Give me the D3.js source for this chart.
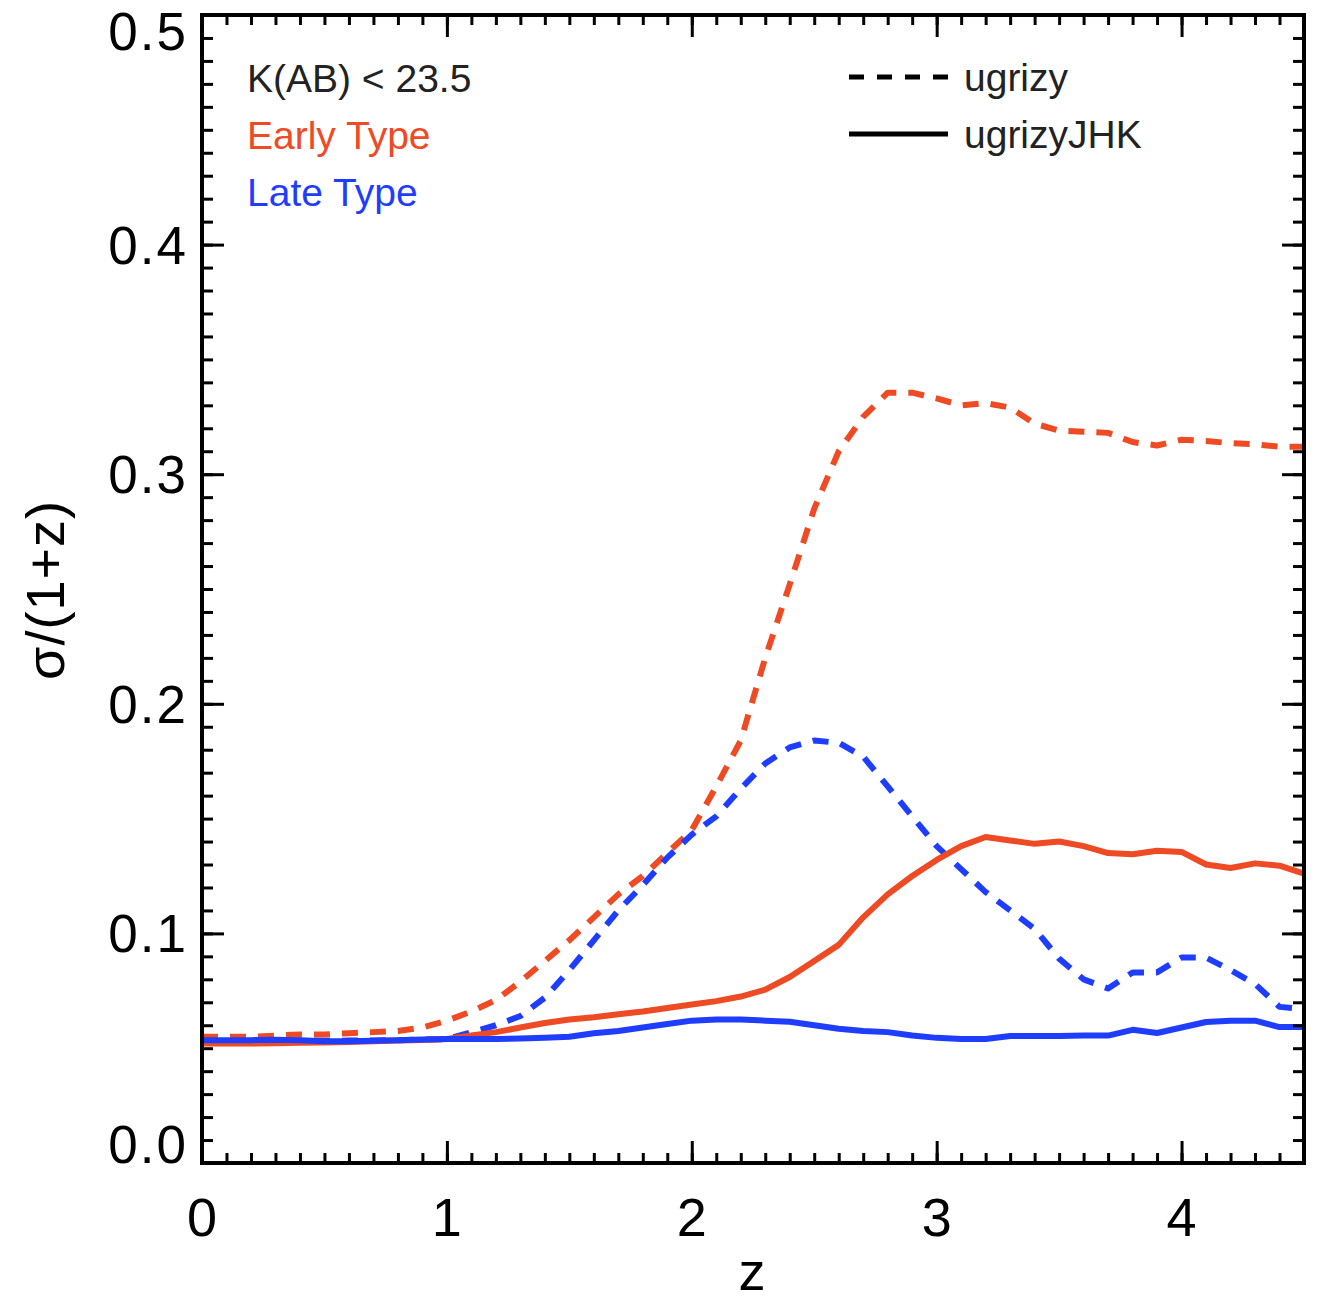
<!DOCTYPE html>
<meta charset="utf-8">
<style>
body { margin: 0; background: #fff; }
text { font-family: "Liberation Sans", Helvetica, Arial, sans-serif; }
.axis path { display: none; }
.axis line { stroke: #000; stroke-width: 3px; }
</style>
<svg width="1318" height="1303"></svg>
<script src="https://d3js.org/d3.v7.min.js"></script>
<script>

// redshift grid
var zGrid = d3.range(0, 46).map(function(i) { return +(i * 0.1).toFixed(1); });

// sigma/(1+z)
var earlyOptical = [0.055, 0.055, 0.055, 0.0555, 0.056, 0.056, 0.0565, 0.057, 0.0575, 0.059,
  0.062, 0.066, 0.071, 0.079, 0.088, 0.097, 0.107, 0.117, 0.125, 0.135,
  0.145, 0.164, 0.184, 0.220, 0.252, 0.285, 0.310, 0.325, 0.3355, 0.3355,
  0.333, 0.330, 0.331, 0.329, 0.322, 0.319, 0.3185, 0.318, 0.314, 0.3125,
  0.315, 0.3145, 0.3135, 0.313, 0.312, 0.312];

var lateOptical = [0.053, 0.053, 0.053, 0.053, 0.0532, 0.0532, 0.0533, 0.0534, 0.0535, 0.0537,
  0.054, 0.057, 0.060, 0.064, 0.072, 0.084, 0.097, 0.110, 0.121, 0.133,
  0.143, 0.151, 0.163, 0.174, 0.181, 0.184, 0.183, 0.177, 0.164, 0.151,
  0.138, 0.128, 0.118, 0.110, 0.102, 0.089, 0.080, 0.076, 0.083, 0.083,
  0.0895, 0.0895, 0.084, 0.078, 0.068, 0.067];

var earlyNIR = [0.052, 0.052, 0.052, 0.0522, 0.0524, 0.0525, 0.0527, 0.053, 0.0533, 0.0536,
  0.054, 0.0555, 0.057, 0.059, 0.061, 0.0625, 0.0635, 0.0648, 0.066, 0.0675,
  0.069, 0.0705, 0.0725, 0.0755, 0.081, 0.088, 0.095, 0.107, 0.117, 0.125,
  0.132, 0.138, 0.142, 0.1405, 0.139, 0.140, 0.138, 0.135, 0.1345, 0.136,
  0.1355, 0.130, 0.1285, 0.1305, 0.1295, 0.126];

var lateNIR = [0.0535, 0.0535, 0.0535, 0.0537, 0.0535, 0.053, 0.053, 0.0532, 0.0535, 0.0538,
  0.054, 0.054, 0.054, 0.0542, 0.0545, 0.055, 0.0565, 0.0575, 0.059, 0.0605,
  0.062, 0.0625, 0.0625, 0.062, 0.0615, 0.060, 0.0585, 0.0575, 0.057, 0.0555,
  0.0545, 0.054, 0.054, 0.0553, 0.0553, 0.0553, 0.0555, 0.0555, 0.058, 0.0566,
  0.059, 0.0614, 0.062, 0.062, 0.0592, 0.0592];

var xTicks = [0, 1, 2, 3, 4];
var yTicks = [0.0, 0.1, 0.2, 0.3, 0.4, 0.5];

var red = "#ee4a24", blue = "#1f3dff";

var svg = d3.select("svg");
var plotL = 202, plotR = 1304, plotT = 15, plotB = 1163;

var x = d3.scaleLinear().domain([0, 4.5]).range([plotL, plotR]);
var y = d3.scaleLinear().domain([0, 0.5]).range([plotB, plotT]);

// curves
var line = d3.line()
    .x(function(d) { return x(d[0]); })
    .y(function(d) { return y(d[1]); });

var series = [
  {vals: earlyOptical, color: red, dash: "16,12"},
  {vals: lateOptical, color: blue, dash: "16,12"},
  {vals: earlyNIR, color: red, dash: null},
  {vals: lateNIR, color: blue, dash: null}
];

svg.append("clipPath").attr("id", "plotclip")
  .append("rect").attr("x", plotL).attr("y", plotT)
  .attr("width", plotR - plotL).attr("height", plotB - plotT);

svg.append("g").attr("clip-path", "url(#plotclip)")
  .selectAll("path")
  .data(series)
  .enter().append("path")
    .attr("d", function(s) { return line(zGrid.map(function(z, i) { return [z, s.vals[i]]; })); })
    .attr("fill", "none")
    .attr("stroke", function(s) { return s.color; })
    .attr("stroke-width", 6)
    .attr("stroke-linejoin", "round")
    .attr("stroke-dasharray", function(s) { return s.dash; });

// ticks on all four sides, pointing inward
var xMinor = d3.range(0, 46).map(function(i) { return i / 10; });
var yMinor = d3.range(0, 51).map(function(i) { return i / 100; });

function addAxis(axis, tx, ty) {
  svg.append("g").attr("class", "axis")
    .attr("transform", "translate(" + tx + "," + ty + ")")
    .call(axis);
}

addAxis(d3.axisBottom(x).tickValues(xMinor).tickSize(-10).tickFormat(""), 0, plotB);
addAxis(d3.axisBottom(x).tickValues(xTicks).tickSize(-22).tickFormat(""), 0, plotB);
addAxis(d3.axisTop(x).tickValues(xMinor).tickSize(-10).tickFormat(""), 0, plotT);
addAxis(d3.axisTop(x).tickValues(xTicks).tickSize(-22).tickFormat(""), 0, plotT);
addAxis(d3.axisLeft(y).tickValues(yMinor).tickSize(-11).tickFormat(""), plotL, 0);
addAxis(d3.axisLeft(y).tickValues(yTicks).tickSize(-22).tickFormat(""), plotL, 0);
addAxis(d3.axisRight(y).tickValues(yMinor).tickSize(-11).tickFormat(""), plotR, 0);
addAxis(d3.axisRight(y).tickValues(yTicks).tickSize(-22).tickFormat(""), plotR, 0);

svg.append("rect")
  .attr("x", plotL).attr("y", plotT)
  .attr("width", plotR - plotL).attr("height", plotB - plotT)
  .attr("fill", "none").attr("stroke", "#000").attr("stroke-width", 4);

// tick labels
svg.append("g").selectAll("text")
  .data(xTicks)
  .enter().append("text")
    .attr("x", function(d) { return x(d); })
    .attr("y", 1236)
    .attr("text-anchor", "middle")
    .attr("font-size", 54)
    .text(function(d) { return d; });

// end labels sit inside the frame height, as in the original
svg.append("g").selectAll("text")
  .data(yTicks)
  .enter().append("text")
    .attr("x", 188)
    .attr("y", function(d) {
      if (d === 0) return plotB;
      if (d === 0.5) return 50;
      return y(d) + 19;
    })
    .attr("text-anchor", "end")
    .attr("font-size", 53)
    .attr("letter-spacing", 2)
    .text(function(d) { return d.toFixed(1); });

// axis titles
svg.append("text")
  .attr("x", 752).attr("y", 1290)
  .attr("text-anchor", "middle")
  .attr("font-size", 54)
  .text("z");

svg.append("text")
  .attr("transform", "translate(64,590) rotate(-90)")
  .attr("text-anchor", "middle")
  .attr("font-size", 54)
  .attr("letter-spacing", 1)
  .text("σ/(1+z)");

// annotations
var notes = [
  {t: "K(AB) < 23.5", c: "#222", yy: 92},
  {t: "Early Type", c: red, yy: 149},
  {t: "Late Type", c: blue, yy: 206}
];
svg.append("g").selectAll("text")
  .data(notes)
  .enter().append("text")
    .attr("x", 247)
    .attr("y", function(d) { return d.yy; })
    .attr("font-size", 39)
    .attr("fill", function(d) { return d.c; })
    .text(function(d) { return d.t; });

// legend
var legend = [
  {t: "ugrizy", dash: "15,13", yy: 77},
  {t: "ugrizyJHK", dash: null, yy: 134}
];
var lg = svg.append("g").selectAll("g").data(legend).enter().append("g");
lg.append("line")
  .attr("x1", 849).attr("x2", 948)
  .attr("y1", function(d) { return d.yy; })
  .attr("y2", function(d) { return d.yy; })
  .attr("stroke", "#000").attr("stroke-width", 5)
  .attr("stroke-dasharray", function(d) { return d.dash; });
lg.append("text")
  .attr("x", 964)
  .attr("y", function(d) { return d.yy + 14; })
  .attr("font-size", 39)
  .attr("fill", "#222")
  .text(function(d) { return d.t; });

</script>
